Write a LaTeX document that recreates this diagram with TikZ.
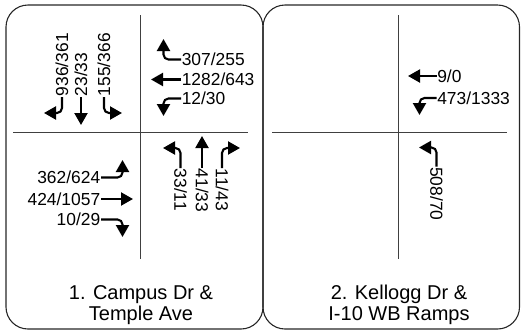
\documentclass[tikz,border=0pt]{standalone}
\usepackage{fontspec}
\setmainfont{Liberation Sans}
\usetikzlibrary{arrows.meta}
\begin{document}
\begin{tikzpicture}[x=1pt,y=-1pt,
  panel/.style={draw=black!85, line width=1.1pt, rounded corners=22pt},
  street/.style={draw=black!75, line width=1pt},
  lbl/.style={inner sep=0.6pt, font=\fontsize{17.4}{20}\selectfont},
  ttl/.style={inner sep=0pt, anchor=base, font=\fontsize{20}{22}\selectfont},
  mv/.style={line width=2.1pt, -{Triangle[length=12pt,width=13pt]}},
  turn/.style={mv, rounded corners=5pt}]
\useasboundingbox (0,0) rectangle (521,333);
% panels
\draw[panel] (6,5) rectangle (263,329);
\draw[panel] (263,5) rectangle (519.5,329);
% streets
\draw[street] (140,15) -- (140,259);
\draw[street] (13,132) -- (248,132);
\draw[street] (398.3,15) -- (398.3,259);
\draw[street] (272,132) -- (507,132);
% ---- panel 1, NW (southbound)
\node[lbl, rotate=90, anchor=west] (n936) at (62,97) {936/361};
\node[lbl, rotate=90, anchor=west] (n23) at (81,97) {23/33};
\node[lbl, rotate=90, anchor=west] (n155) at (104,97) {155/366};
\coordinate (t936) at (44,113);
\coordinate (t23) at (81,125);
\coordinate (t155) at (122,113);
\draw[turn] (n936.west) |- (t936);
\draw[mv] (n23.west) -- (t23);
\draw[turn] (n155.west) |- (t155);
% ---- panel 1, NE (westbound)
\node[lbl, anchor=west] (n307) at (181,59.5) {307/255};
\node[lbl, anchor=west] (n1282) at (181,79.5) {1282/643};
\node[lbl, anchor=west] (n12) at (181,98.5) {12/30};
\coordinate (t307) at (163.5,39);
\coordinate (t1282) at (151,79.5);
\coordinate (t12) at (163.5,116);
\draw[turn] (n307.west) -| (t307);
\draw[mv] (n1282.west) -- (t1282);
\draw[turn] (n12.west) -| (t12);
% ---- panel 1, SW (eastbound)
\node[lbl, anchor=east] (n362) at (101,177.5) {362/624};
\node[lbl, anchor=east] (n424) at (101,199) {424/1057};
\node[lbl, anchor=east] (n10) at (101,219.5) {10/29};
\coordinate (t362) at (122.5,160);
\coordinate (t424) at (133,199);
\coordinate (t10) at (122.5,237);
\draw[turn] (n362.east) -| (t362);
\draw[mv] (n424.east) -- (t424);
\draw[turn] (n10.east) -| (t10);
% ---- panel 1, SE (northbound)
\node[lbl, rotate=-90, anchor=west] (n33) at (180.5,168) {33/11};
\node[lbl, rotate=-90, anchor=west] (n41) at (202,168) {41/33};
\node[lbl, rotate=-90, anchor=west] (n11) at (222,168) {11/43};
\coordinate (t33) at (163,148);
\coordinate (t41) at (202,136);
\coordinate (t11) at (240,148);
\draw[turn] (n33.west) |- (t33);
\draw[mv] (n41.west) -- (t41);
\draw[turn] (n11.west) |- (t11);
% ---- panel 2
\node[lbl, anchor=west] (r9) at (436.5,76) {9/0};
\node[lbl, anchor=west] (r473) at (436.5,98) {473/1333};
\node[lbl, rotate=-90, anchor=west] (r508) at (436.5,166.5) {508/70};
\coordinate (s9) at (408,76);
\coordinate (s473) at (419.5,115);
\coordinate (s508) at (419,147.5);
\draw[mv] (r9.west) -- (s9);
\draw[turn] (r473.west) -| (s473);
\draw[turn] (r508.west) |- (s508);
% titles
\node[ttl] (t1a) at (141,299) {1. Campus Dr \&};
\node[ttl] (t1b) at (141,320) {Temple Ave};
\node[ttl] (t2a) at (399,299) {2. Kellogg Dr \&};
\node[ttl] (t2b) at (399,320) {I-10 WB Ramps};
\end{tikzpicture}
\end{document}
